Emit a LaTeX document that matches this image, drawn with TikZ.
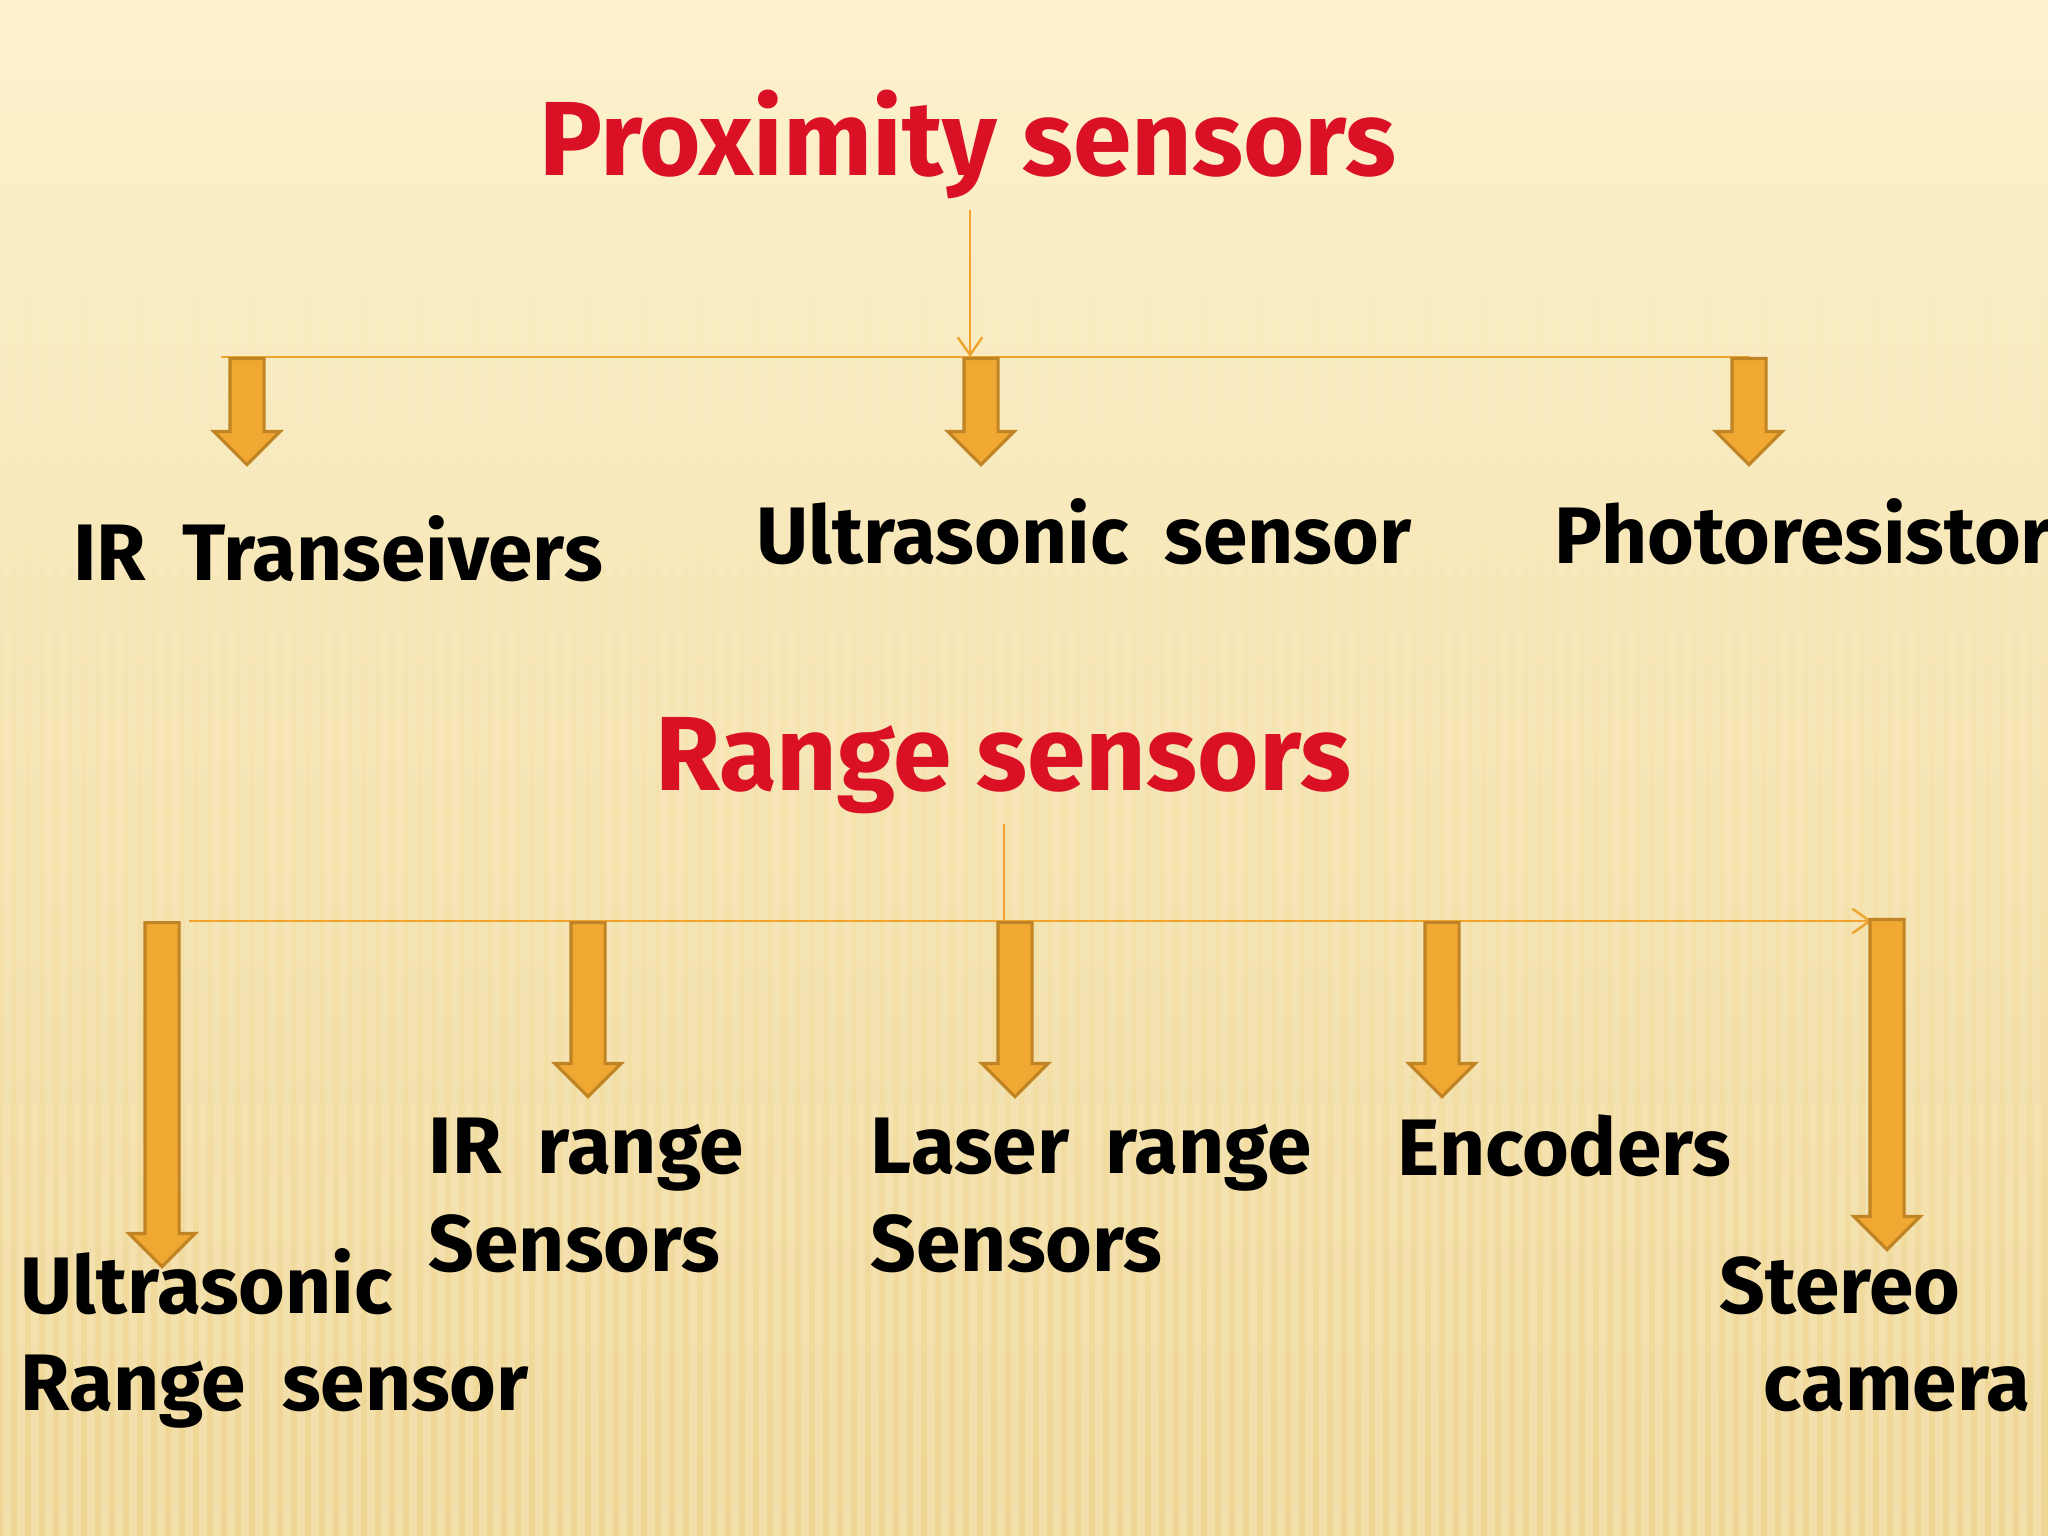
\documentclass[tikz,border=0pt]{standalone}
\usepackage{fontspec}
\setmainfont{Fira Sans}
\usetikzlibrary{shapes.arrows,arrows.meta,positioning,fadings}
\definecolor{bgtop}{RGB}{253,242,206}
\definecolor{bgmid}{RGB}{247,229,176}
\definecolor{bgbot}{RGB}{238,213,146}
\definecolor{titlered}{RGB}{218,16,36}
\definecolor{arrowfill}{RGB}{240,168,50}
\definecolor{arrowedge}{RGB}{192,132,36}
\definecolor{linkline}{RGB}{240,164,48}
\newcommand{\widespace}{\spaceskip=0.45em\relax}
\tikzstyle{title} = [font=\fontsize{30}{36}\selectfont\bfseries, text=titlered, inner sep=0pt]
\tikzstyle{item} = [font=\fontsize{22.8}{27.6}\selectfont\bfseries\widespace, text=black, inner sep=0pt, align=left]
\tikzstyle{link} = [draw=linkline, line width=0.7pt]
\tikzstyle{fat} = [single arrow, rotate=-90, anchor=tail, fill=arrowfill, draw=arrowedge, line width=0.9pt, inner xsep=0pt, inner ysep=0.155cm, minimum width=0pt, single arrow head extend=0.16cm, single arrow tip angle=90]
\tikzset{>={Straight Barb[length=5pt,width=7pt]}}

\begin{document}
\begin{tikzpicture}
    \useasboundingbox (0,0) rectangle (20.48,-15.36);
    \clip (0,0) rectangle (20.48,-15.36);
    \shade [top color=bgtop, middle color=bgmid, bottom color=bgbot] (0,0) rectangle (20.48,-15.36);
    \foreach \x in {0.07,0.21,...,20.48}
      \draw [white, opacity=0.22, line width=2pt, path fading=north] (\x,-0.8) -- (\x,-15.36);

    % proximity sensors
    \node [title, anchor=base] (prox) at (9.68,-1.76) {Proximity sensors};
    \coordinate (pl) at (2.21,-3.57);
    \coordinate (pr) at (17.50,-3.57);
    \coordinate (pm) at (9.70,-3.57);
    \draw [link] (pl) -- (pr);
    \draw [link,->] ([yshift=-0.1cm]prox.south -| pm) -- (pm);
    \node [fat, minimum height=1.06cm] (pa1) at (2.47,-3.57) {};
    \node [fat, minimum height=1.06cm] (pa2) at (9.81,-3.57) {};
    \node [fat, minimum height=1.06cm] (pa3) at (17.49,-3.57) {};
    \node [item, anchor=base] (irt) at (3.38,-5.81) {IR Transeivers};
    \node [item, anchor=base] (ultra) at (10.84,-5.64) {Ultrasonic sensor};
    \node [item, anchor=base west] (photo) at (15.54,-5.64) {Photoresistor};

    % range sensors
    \node [title, anchor=base] (range) at (10.03,-7.90) {Range sensors};
    \coordinate (rl) at (1.89,-9.21);
    \coordinate (rr) at (18.72,-9.21);
    \coordinate (rm) at (10.04,-9.21);
    \draw [link,->] (rl) -- (rr);
    \draw [link] ([yshift=-0.1cm]range.south -| rm) -- (rm);
    \node [fat, minimum height=3.44cm] (ra1) at (1.62,-9.21) {};
    \node [fat, minimum height=1.74cm] (ra2) at (5.88,-9.21) {};
    \node [fat, minimum height=1.74cm] (ra3) at (10.15,-9.21) {};
    \node [fat, minimum height=1.74cm] (ra4) at (14.42,-9.21) {};
    \node [fat, minimum height=3.30cm] (ra5) at (18.87,-9.18) {};
    \node [item, anchor=base west] (usr) at (0.20,-14.10) {Ultrasonic\\Range sensor};
    \node [item, anchor=base west] (irr) at (4.28,-12.71) {IR range\\Sensors};
    \node [item, anchor=base west] (laser) at (8.70,-12.71) {Laser range\\Sensors};
    \node [item, anchor=base west] (enc) at (13.97,-11.75) {Encoders};
    \node [item, anchor=base west] (stereo) at (17.19,-14.10) {Stereo\\\hspace*{0.44cm}camera};
  \end{tikzpicture}
\end{document}
